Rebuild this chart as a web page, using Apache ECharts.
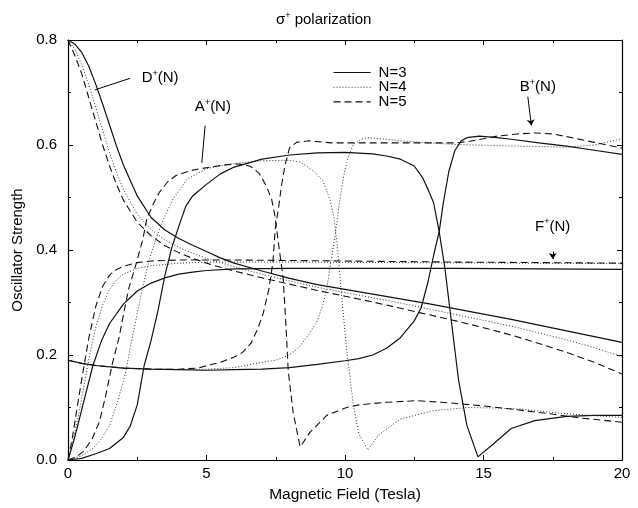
<!DOCTYPE html>
<html>
<head>
<meta charset="utf-8">
<script src="https://cdn.jsdelivr.net/npm/echarts@6/dist/echarts.min.js"></script>
<style>html,body{margin:0;padding:0;background:#fff;}#c{width:638px;height:508px;}</style>
</head>
<body>
<div id="c"></div>
<script>
// ---- tick labels ----
const xTickLabels = ['0', '5', '10', '15', '20'];
const yTickLabels = ['0.0', '0.2', '0.4', '0.6', '0.8'];
const legendNames = ['N=3', 'N=4', 'N=5'];

// ---- D+(N) ----
const dN3 = [[0,0.8],[0.25,0.792],[0.5,0.776],[0.75,0.75],[1,0.716],[1.25,0.678],[1.5,0.638],[1.75,0.598],[2,0.562],[2.5,0.503],[3,0.462],[3.5,0.438],[4,0.422],[4.5,0.409],[5,0.397],[5.5,0.385],[6,0.375],[7,0.36],[8,0.346],[9,0.334],[10,0.325],[11,0.316],[12,0.307],[13,0.298],[14,0.288],[15,0.278],[16,0.268],[17,0.257],[18,0.246],[19,0.235],[20,0.224]];
const dN4 = [[0,0.8],[0.25,0.782],[0.5,0.752],[0.75,0.715],[1,0.672],[1.25,0.628],[1.5,0.585],[1.75,0.548],[2,0.515],[2.5,0.468],[3,0.439],[3.5,0.419],[4,0.405],[4.5,0.394],[5,0.384],[5.5,0.376],[6,0.368],[7,0.354],[8,0.341],[9,0.329],[10,0.319],[11,0.309],[12,0.299],[13,0.288],[14,0.277],[15,0.266],[16,0.255],[17,0.242],[18,0.229],[19,0.214],[20,0.197]];
const dN5 = [[0,0.8],[0.25,0.77],[0.5,0.735],[0.75,0.69],[1,0.645],[1.25,0.6],[1.5,0.56],[1.75,0.525],[2,0.495],[2.5,0.453],[3,0.427],[3.5,0.408],[4,0.395],[4.5,0.384],[5,0.375],[5.5,0.367],[6,0.36],[7,0.347],[8,0.335],[9,0.323],[10,0.312],[11,0.301],[12,0.289],[13,0.277],[14,0.265],[15,0.252],[16,0.238],[17,0.222],[18,0.205],[19,0.186],[20,0.164]];

// ---- F+(N) ----
const fN3 = [[0,0],[0.2,0.035],[0.4,0.076],[0.6,0.118],[0.9,0.18],[1.2,0.226],[1.5,0.26],[2,0.297],[2.5,0.322],[3,0.337],[3.5,0.347],[4,0.354],[4.5,0.358],[5,0.361],[6,0.364],[8,0.365],[10,0.365],[14,0.365],[20,0.363]];
const fN4 = [[0,0],[0.2,0.042],[0.4,0.09],[0.6,0.148],[0.8,0.205],[1,0.252],[1.25,0.295],[1.5,0.325],[1.75,0.343],[2,0.354],[2.5,0.365],[3,0.37],[4,0.375],[5,0.377],[8,0.377],[12,0.376],[16,0.375],[20,0.374]];
const fN5 = [[0,0],[0.15,0.04],[0.3,0.09],[0.5,0.155],[0.75,0.232],[1,0.292],[1.25,0.331],[1.5,0.352],[1.75,0.363],[2,0.369],[2.5,0.376],[3,0.379],[4,0.381],[6,0.381],[10,0.379],[14,0.377],[20,0.375]];

// ---- A+(N) ----
const aN3 = [[0,0],[0.5,0.003],[1,0.012],[1.5,0.022],[2,0.043],[2.25,0.065],[2.5,0.105],[2.75,0.18],[3,0.228],[3.25,0.285],[3.5,0.352],[3.75,0.405],[4,0.445],[4.25,0.483],[4.5,0.503],[5,0.525],[5.5,0.545],[6,0.558],[7,0.573],[8,0.581],[9,0.585],[10,0.586],[11,0.583],[11.5,0.579],[12,0.573],[12.5,0.56],[12.8,0.538],[13,0.515],[13.2,0.49],[13.4,0.435],[13.6,0.368],[13.85,0.26],[14.1,0.152],[14.4,0.066],[14.8,0.006],[15.3,0.028],[16,0.06],[16.85,0.075],[18,0.083],[19,0.085],[20,0.085]];
const aN4 = [[0,0],[0.5,0.008],[0.9,0.022],[1.2,0.04],[1.5,0.066],[1.75,0.105],[2,0.15],[2.1,0.172],[2.25,0.215],[2.45,0.266],[2.7,0.33],[2.95,0.385],[3.2,0.425],[3.5,0.465],[3.8,0.498],[4.3,0.535],[5,0.555],[6,0.565],[7,0.57],[8,0.571],[8.4,0.567],[8.85,0.551],[9.2,0.532],[9.45,0.497],[9.6,0.463],[9.72,0.41],[9.85,0.33],[10.05,0.215],[10.3,0.105],[10.5,0.05],[10.83,0.019],[11.2,0.047],[12,0.078],[13.2,0.094],[14.4,0.1],[15.5,0.099],[16.3,0.097],[18,0.088],[20,0.081]];
const aN5 = [[0,0],[0.3,0.006],[0.55,0.016],[0.85,0.038],[1.13,0.072],[1.35,0.12],[1.6,0.183],[1.85,0.235],[2.05,0.29],[2.2,0.328],[2.45,0.372],[2.7,0.42],[2.85,0.46],[3.1,0.49],[3.3,0.51],[3.6,0.53],[3.9,0.542],[4.4,0.551],[4.8,0.555],[5.4,0.56],[6,0.564],[6.3,0.563],[6.6,0.559],[6.9,0.546],[7.15,0.523],[7.35,0.497],[7.47,0.465],[7.58,0.42],[7.77,0.345],[7.87,0.255],[7.95,0.17],[8.13,0.09],[8.38,0.025],[8.74,0.053],[9.34,0.085],[10.06,0.1],[10.5,0.105],[11.5,0.11],[12.6,0.113],[13.5,0.11],[15,0.103],[16,0.097],[17.4,0.088],[18.5,0.08],[20,0.072]];

// ---- B+(N) ----
const bN3 = [[0,0.19],[0.5,0.184],[1,0.18],[2,0.175],[3,0.173],[4,0.172],[5,0.171],[6,0.172],[7,0.173],[8,0.176],[9,0.182],[10,0.189],[10.5,0.193],[11,0.2],[11.5,0.213],[12,0.233],[12.5,0.265],[12.75,0.29],[13,0.34],[13.2,0.39],[13.4,0.435],[13.55,0.49],[13.75,0.55],[13.97,0.59],[14.2,0.608],[14.4,0.614],[14.85,0.617],[15.5,0.614],[16,0.611],[17,0.604],[18,0.598],[19,0.59],[20,0.582]];
const bN4 = [[0,0.19],[0.5,0.184],[1,0.18],[2,0.175],[3,0.173],[4,0.172],[5,0.173],[6,0.176],[7,0.186],[7.5,0.19],[7.9,0.198],[8.2,0.208],[8.4,0.218],[8.7,0.24],[9,0.265],[9.2,0.296],[9.35,0.33],[9.5,0.38],[9.65,0.43],[9.8,0.49],[9.95,0.54],[10.1,0.575],[10.3,0.601],[10.6,0.611],[10.8,0.614],[11.5,0.611],[12,0.608],[13,0.604],[14,0.601],[16,0.598],[18,0.596],[19,0.6],[19.5,0.606],[20,0.612]];
const bN5 = [[0,0.19],[0.5,0.184],[1,0.18],[2,0.175],[3,0.173],[4,0.173],[4.7,0.175],[5.1,0.181],[5.5,0.186],[6,0.196],[6.3,0.205],[6.6,0.222],[6.85,0.25],[7.05,0.28],[7.25,0.325],[7.4,0.378],[7.48,0.44],[7.6,0.48],[7.7,0.52],[7.83,0.56],[8,0.595],[8.25,0.605],[8.7,0.608],[9.5,0.604],[11,0.604],[12.5,0.604],[14,0.604],[14.5,0.607],[15.5,0.617],[16.2,0.621],[16.9,0.623],[17.5,0.621],[18,0.616],[19,0.605],[20,0.594]];

// ---- annotations (data coordinates) ----
const labelNames = ['D', 'A', 'B', 'F'];
const labelAnchors = [[2.66,0.728],[4.58,0.672],[16.31,0.711],[16.86,0.445]];
const pointerLines = [
  [[2.24,0.727],[0.97,0.705],'none'],
  [[4.95,0.637],[4.83,0.566],'none'],
  [[16.6,0.692],[16.73,0.637],'arrow'],
  [[17.5,0.397],[17.5,0.383],'arrow']
];

const FONT = '"Liberation Sans", Arial, Helvetica, sans-serif';
const styles = {
  'N=3': {type: 'solid', width: 1.2, color: '#111'},
  'N=4': {type: [1, 2], width: 1, color: '#333'},
  'N=5': {type: [7, 4], width: 1.1, color: '#111'}
};
const curves = [
  ['N=3', dN3], ['N=4', dN4], ['N=5', dN5],
  ['N=3', fN3], ['N=4', fN4], ['N=5', fN5],
  ['N=3', aN3], ['N=4', aN4], ['N=5', aN5],
  ['N=3', bN3], ['N=4', bN4], ['N=5', bN5]
];

const series = curves.map(([name, data]) => ({
  type: 'line', name: name, data: data, symbol: 'none', showSymbol: false,
  lineStyle: styles[name], itemStyle: {color: '#111'},
  animation: false, silent: true,
  xAxisIndex: 0, yAxisIndex: 0
}));

series.push({
  type: 'line', name: 'annot', data: [], xAxisIndex: 0, yAxisIndex: 0, animation: false,
  markLine: {
    silent: true, animation: false,
    label: {show: false},
    lineStyle: {color: '#000', width: 1, type: 'solid'},
    data: pointerLines.map(p => [
      {coord: p[0], symbol: 'none'},
      {coord: p[1], symbol: p[2], symbolSize: 6}
    ])
  }
});

function axisCommon(pos, showLabel, labels, interval, min, max) {
  return {
    type: 'value', position: pos, min: min, max: max, interval: interval,
    axisLine: {show: true, onZero: false, lineStyle: {color: '#000', width: 1.2}},
    axisTick: {show: true, inside: true, length: 5, lineStyle: {color: '#000', width: 1}},
    minorTick: {show: true, splitNumber: 2, length: 3, lineStyle: {color: '#000', width: 1}},
    splitLine: {show: false},
    axisLabel: {
      show: showLabel, color: '#000', fontSize: 15, fontFamily: FONT,
      formatter: function (v) { return labels[Math.round((v - min) / interval)]; }
    }
  };
}

const xBottom = axisCommon('bottom', true, xTickLabels, 5, 0, 20);
xBottom.axisLabel.margin = 6;
xBottom.name = 'Magnetic Field (Tesla)';
xBottom.nameLocation = 'middle';
xBottom.nameGap = 27;
xBottom.nameTextStyle = {color: '#000', fontSize: 15.5, fontFamily: FONT};
const xTop = axisCommon('top', false, xTickLabels, 5, 0, 20);

const yLeft = axisCommon('left', true, yTickLabels, 0.2, 0, 0.8);
yLeft.axisLabel.margin = 11;
yLeft.name = 'Oscillator Strength';
yLeft.nameLocation = 'middle';
yLeft.nameGap = 39;
yLeft.nameTextStyle = {color: '#000', fontSize: 15, fontFamily: FONT};
const yRight = axisCommon('right', false, yTickLabels, 0.2, 0, 0.8);

const chart = echarts.init(document.getElementById('c'), null, {renderer: 'canvas'});
chart.setOption({
  animation: false,
  backgroundColor: '#fff',
  title: {
    text: '{a|σ}{s|+}{a| polarization}',
    left: 276, top: 11, padding: 0,
    textStyle: {
      fontWeight: 'normal',
      rich: {
        a: {fontSize: 15, fontFamily: FONT, color: '#000', fontWeight: 'normal', lineHeight: 18},
        s: {fontSize: 9, fontFamily: FONT, color: '#000', fontWeight: 'normal', verticalAlign: 'top', lineHeight: 10}
      }
    }
  },
  legend: {
    data: legendNames, orient: 'vertical', left: 333, top: 65, padding: 0,
    itemWidth: 37, itemHeight: 8, itemGap: -0.3, selectedMode: false,
    itemStyle: {opacity: 0},
    lineStyle: {width: 1.1},
    textStyle: {fontSize: 15, fontFamily: FONT, color: '#000', padding: [0, 0, 0, 3], lineHeight: 12}
  },
  grid: {left: 68, right: 16, top: 40, bottom: 43, containLabel: false},
  xAxis: [xBottom, xTop],
  yAxis: [yLeft, yRight],
  series: series
});

const graphics = labelNames.map((n, i) => {
  const p = chart.convertToPixel({gridIndex: 0}, labelAnchors[i]);
  return {
    type: 'text', x: p[0], y: p[1], silent: true,
    style: {
      text: '{b|' + n + '}{s|+}{b|(N)}',
      verticalAlign: 'middle', align: 'left',
      rich: {
        b: {fontSize: 15, fontFamily: FONT, fill: '#000', lineHeight: 18},
        s: {fontSize: 9, fontFamily: FONT, fill: '#000', verticalAlign: 'top', lineHeight: 10}
      }
    }
  };
});
chart.setOption({graphic: graphics});
</script>
</body>
</html>
